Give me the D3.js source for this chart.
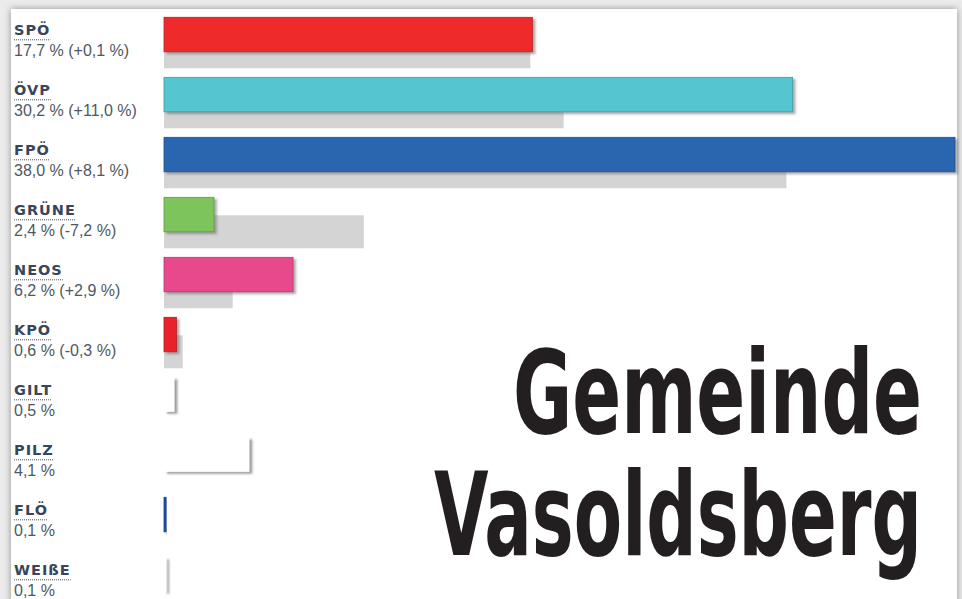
<!DOCTYPE html>
<html>
<head>
<meta charset="utf-8">
<script src="https://cdn.jsdelivr.net/npm/d3@7/dist/d3.min.js"></script>
<style>
  html, body { margin: 0; padding: 0; background: #e6e6e6; }
  svg { display: block; }
</style>
</head>
<body>
<svg id="chart" width="962" height="599"></svg>
<script>
// ---- data ----
const parties  = ["SPÖ", "ÖVP", "FPÖ", "GRÜNE", "NEOS", "KPÖ", "GILT", "PILZ", "FLÖ", "WEIßE"];
const current  = [17.7, 30.2, 38.0, 2.4, 6.2, 0.6, 0.5, 4.1, 0.1, 0.1];
const previous = [17.6, 19.2, 29.9, 9.6, 3.3, 0.9, null, null, null, null];
const change   = [0.1, 11.0, 8.1, -7.2, 2.9, -0.3, null, null, null, null];
const colors   = ["#ee2b2b", "#55c5d0", "#2c66b0", "#7ec45c", "#e84a8c", "#e8232a", "#ffffff", "#ffffff", "#1f50b5", "#ffffff"];
const titleLines = ["Gemeinde", "Vasoldsberg"];

const rows = parties.map((p, i) => ({ party: p, cur: current[i], prev: previous[i], chg: change[i], color: colors[i] }));

const svg = d3.select("#chart");
const W = 962, H = 599;

const defs = svg.append("defs");
const panelShadow = defs.append("filter").attr("id", "panelShadow")
  .attr("x", "-5%").attr("y", "-5%").attr("width", "110%").attr("height", "110%");
panelShadow.append("feDropShadow").attr("dx", 0).attr("dy", 0)
  .attr("stdDeviation", 3.5).attr("flood-color", "#777").attr("flood-opacity", 0.8);

const barShadow = defs.append("filter").attr("id", "barShadow")
  .attr("x", "-20%").attr("y", "-20%").attr("width", "150%").attr("height", "160%");
barShadow.append("feDropShadow").attr("dx", 2.5).attr("dy", 2)
  .attr("stdDeviation", 1.2).attr("flood-color", "#666").attr("flood-opacity", 0.55);

const whiteShadow = defs.append("filter").attr("id", "whiteShadow")
  .attr("x", "-50%").attr("y", "-20%").attr("width", "400%").attr("height", "160%");
whiteShadow.append("feDropShadow").attr("dx", 3).attr("dy", 2)
  .attr("stdDeviation", 1).attr("flood-color", "#777").attr("flood-opacity", 0.7);

// background + panel
svg.append("rect").attr("x", 0).attr("y", 0).attr("width", W).attr("height", H).attr("fill", "#ececec");
svg.append("rect").attr("x", 11).attr("y", 9).attr("width", 946).attr("height", H + 20)
  .attr("fill", "#ffffff").attr("filter", "url(#panelShadow)");

// scales
const x = d3.scaleLinear().domain([0, 38]).range([164, 955]);
const y = d3.scaleBand().domain(parties).range([17.3, 17.3 + 60 * parties.length]).paddingInner(0).paddingOuter(0);

const loc = d3.formatLocale({ decimal: ",", thousands: ".", grouping: [3], currency: ["", "€"], minus: "-" });
const f1 = loc.format(".1f");
const fs = loc.format("+.1f");

// previous (grey) bars
svg.append("g").selectAll("rect").data(rows.filter(d => d.prev != null)).join("rect")
  .attr("x", x(0))
  .attr("y", d => y(d.party) + 18)
  .attr("width", d => x(d.prev) - x(0))
  .attr("height", 33)
  .attr("fill", "#d4d4d4");

// current bars
const isWhite = d => d.color === "#ffffff";
svg.append("g").selectAll("rect").data(rows).join("rect")
  .attr("x", x(0))
  .attr("y", d => y(d.party))
  .attr("width", d => Math.max(2, x(d.cur) - x(0)))
  .attr("height", 34.5)
  .attr("fill", d => d.color)
  .attr("stroke", d => isWhite(d) ? "none" : d3.color(d.color).darker(0.7))
  .attr("stroke-width", 0.8)
  .attr("filter", d => isWhite(d) ? "url(#whiteShadow)" : "url(#barShadow)");

// labels
const lab = svg.append("g").selectAll("g").data(rows).join("g")
  .attr("transform", d => `translate(14,${y(d.party)})`);

lab.append("text")
  .attr("class", "name")
  .attr("x", 0).attr("y", 17.7)
  .attr("font-family", "'DejaVu Sans', sans-serif")
  .attr("font-weight", "bold")
  .attr("font-size", 14.5)
  .attr("letter-spacing", 1)
  .attr("fill", "#38455a")
  .text(d => d.party);

lab.each(function () {
  const g = d3.select(this);
  const w = g.select("text.name").node().getComputedTextLength();
  g.append("line")
    .attr("x1", 0).attr("x2", w)
    .attr("y1", 22.5).attr("y2", 22.5)
    .attr("stroke", "#4a5564").attr("stroke-width", 1)
    .attr("stroke-dasharray", "1,1");
});

lab.append("text")
  .attr("x", 0).attr("y", 38.7)
  .attr("font-family", "'Liberation Sans', Arial, sans-serif")
  .attr("font-size", 16)
  .attr("fill", "#4e5864")
  .text(d => f1(d.cur) + " %" + (d.chg != null ? " (" + fs(d.chg) + " %)" : ""));

// big title (scaled horizontally to the reference widths)
const title = svg.append("g");
const titleBase = [433, 555];
const titleWidth = [409, 488];
titleLines.forEach((t, i) => {
  const g = title.append("g");
  const txt = g.append("text")
    .attr("x", 0).attr("y", 0)
    .attr("text-anchor", "end")
    .attr("font-family", "'DejaVu Sans Condensed', 'DejaVu Sans', sans-serif")
    .attr("font-stretch", "condensed")
    .attr("font-weight", "bold")
    .attr("font-size", 116)
    .attr("fill", "#231f20")
    .text(t);
  const natural = txt.node().getComputedTextLength();
  const sx = titleWidth[i] / natural;
  g.attr("transform", `translate(922,${titleBase[i]}) scale(${sx},1)`);
});
</script>
</body>
</html>
